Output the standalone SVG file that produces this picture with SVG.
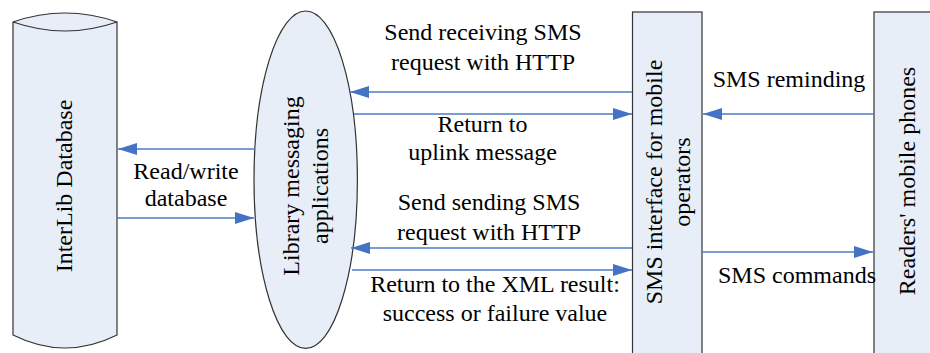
<svg xmlns="http://www.w3.org/2000/svg" width="930" height="353" viewBox="0 0 930 353">
<style>
.shape{fill:#E8EEF7;stroke:#333;stroke-width:1.2}
.lbl{font-family:"Liberation Serif","Times New Roman",serif;font-size:24px;fill:#000;text-anchor:middle}
.conn{stroke:#4A7CC4;stroke-width:1.5;fill:none;marker-end:url(#ah)}
</style>
<defs>
<marker id="ah" markerUnits="userSpaceOnUse" markerWidth="20" markerHeight="12" refX="19" refY="6" orient="auto">
<path d="M0,0 L19,6 L0,12 Z" fill="#4472C4"/>
</marker>
</defs>
<rect width="930" height="353" fill="#fff"/>
<g id="interlib-db">
<path class="shape" d="M13,22 Q65,4 117,22 L117,335 Q65,361 13,335 Z"/>
<path d="M13,22 Q65,40 117,22" fill="none" stroke="#333" stroke-width="1.2"/>
<text class="lbl" transform="translate(72,186) rotate(-90)">InterLib Database</text>
</g>
<g id="library-apps">
<ellipse class="shape" cx="305.7" cy="179.7" rx="51.7" ry="168.7"/>
<text class="lbl" transform="translate(299,186) rotate(-90)">Library messaging</text>
<text class="lbl" transform="translate(328,186) rotate(-90)">applications</text>
</g>
<g id="sms-interface">
<rect class="shape" x="632.5" y="12" width="69.5" height="350"/>
<text class="lbl" transform="translate(662,182) rotate(-90)">SMS interface for mobile</text>
<text class="lbl" transform="translate(690,182) rotate(-90)">operators</text>
</g>
<g id="readers-phones">
<rect class="shape" x="874" y="12" width="70" height="350"/>
<text class="lbl" transform="translate(915,181) rotate(-90)">Readers' mobile phones</text>
</g>
<g id="connectors">
<line class="conn" x1="632" y1="92" x2="350" y2="92"/>
<line class="conn" x1="354" y1="114" x2="632" y2="114"/>
<line class="conn" x1="632" y1="248" x2="351" y2="248"/>
<line class="conn" x1="352" y1="270" x2="632" y2="270"/>
<line class="conn" x1="255" y1="149" x2="118" y2="149"/>
<line class="conn" x1="117" y1="218" x2="254" y2="218"/>
<line class="conn" x1="874" y1="114" x2="703" y2="114"/>
<line class="conn" x1="702" y1="252" x2="873" y2="252"/>
</g>
<g id="labels">
<text class="lbl" x="483" y="40">Send receiving SMS</text>
<text class="lbl" x="483" y="70">request with HTTP</text>
<text class="lbl" x="482.5" y="132">Return to</text>
<text class="lbl" x="482.5" y="160">uplink message</text>
<text class="lbl" x="489" y="210">Send sending SMS</text>
<text class="lbl" x="489" y="240">request with HTTP</text>
<text class="lbl" x="495" y="292">Return to the XML result:</text>
<text class="lbl" x="495" y="321">success or failure value</text>
<text class="lbl" x="186" y="179">Read/write</text>
<text class="lbl" x="186" y="206">database</text>
<text class="lbl" x="789" y="87">SMS reminding</text>
<text class="lbl" x="797" y="283">SMS commands</text>
</g>
</svg>
